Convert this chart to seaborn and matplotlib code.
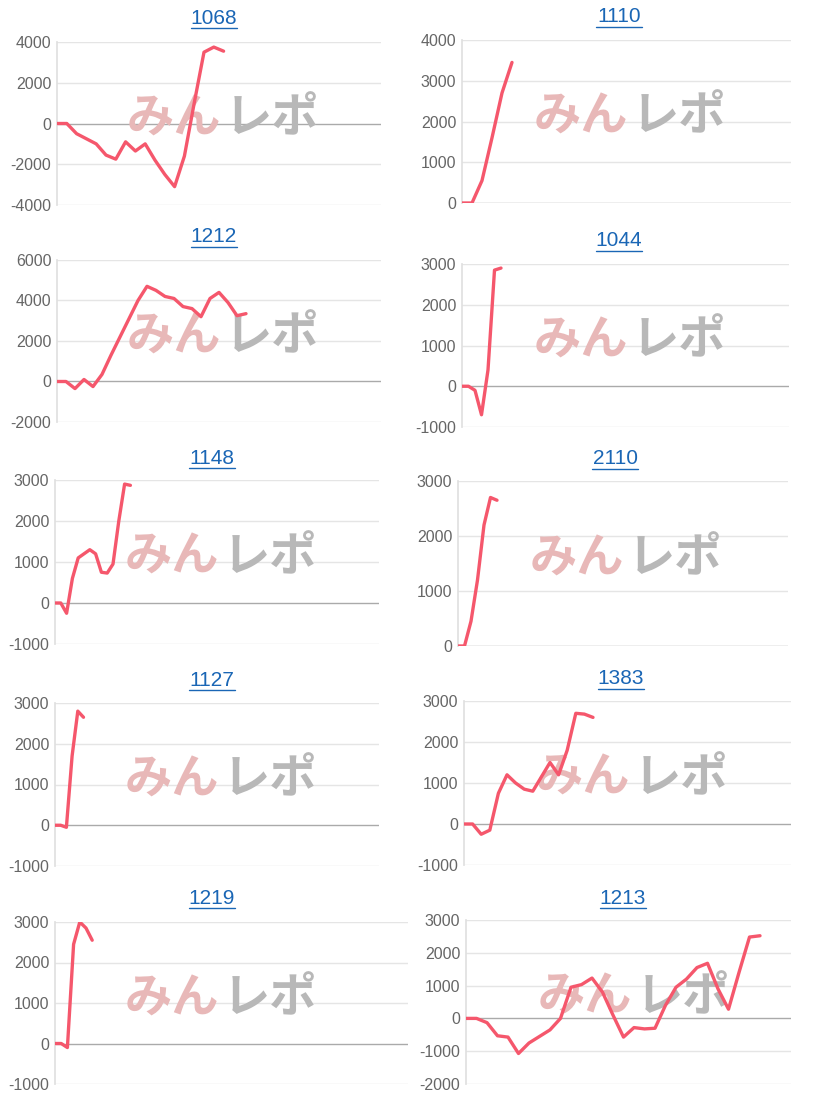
import matplotlib
matplotlib.use("Agg")
import matplotlib.pyplot as plt
import seaborn as sns
import pandas as pd
from matplotlib.ticker import FixedLocator

sns.set_theme(style="white")
plt.rcParams['font.family'] = ['Liberation Sans', 'Noto Sans CJK JP', 'DejaVu Sans']

titles = ["1068", "1110", "1212", "1044", "1148", "2110", "1127", "1383", "1219", "1213"]
v1068 = [0, 0, -500, -750, -1000, -1550, -1750, -900, -1350, -1000, -1800, -2500, -3100, -1600, 1000, 3500, 3750, 3550]
v1110 = [0, 0, 550, 1600, 2700, 3450]
v1212 = [0, 0, -350, 100, -250, 350, 1300, 2200, 3100, 4000, 4700, 4500, 4200, 4100, 3700, 3600, 3200, 4100, 4400, 3900, 3250, 3350]
v1044 = [0, 0, -100, -700, 400, 2850, 2900]
v1148 = [0, 0, -250, 600, 1100, 1200, 1300, 1200, 750, 730, 950, 2000, 2900, 2870]
v2110 = [0, 0, 450, 1200, 2200, 2700, 2650]
v1127 = [0, 0, -50, 1700, 2800, 2650]
v1383 = [0, 0, -250, -150, 750, 1200, 1000, 850, 800, 1150, 1500, 1200, 1800, 2700, 2680, 2600]
v1219 = [0, 0, -100, 2450, 3000, 2850, 2550]
v1213 = [0, 0, -130, -530, -570, -1070, -750, -550, -350, 0, 950, 1030, 1230, 800, 100, -570, -280, -320, -300, 400, 950, 1200, 1550, 1680, 900, 280, 1400, 2480, 2520]
series = [v1068, v1110, v1212, v1044, v1148, v2110, v1127, v1383, v1219, v1213]
yticks = [[-4000, -2000, 0, 2000, 4000], [0, 1000, 2000, 3000, 4000], [-2000, 0, 2000, 4000, 6000],
          [-1000, 0, 1000, 2000, 3000], [-1000, 0, 1000, 2000, 3000], [0, 1000, 2000, 3000],
          [-1000, 0, 1000, 2000, 3000], [-1000, 0, 1000, 2000, 3000], [-1000, 0, 1000, 2000, 3000],
          [-2000, -1000, 0, 1000, 2000, 3000]]
# pixel boxes: x0, x1, ytop, ybottom, title_y, step
boxes = [(57, 381, 42, 205, 18, 9.8), (462, 791, 40, 203, 17, 10), (57, 381, 260, 422, 237, 9),
         (462, 789, 264, 427, 241, 6.5), (55, 379, 480, 644, 458, 5.8), (458, 788, 481, 646, 459, 6.5),
         (55, 379, 703, 866, 680, 5.7), (464, 791, 701, 865, 679, 8.6), (55, 408, 922, 1084, 898, 6.2),
         (466, 791, 920, 1084, 898, 10.5)]

W, H = 818, 1100
fig = plt.figure(figsize=(W / 100, H / 100), dpi=100)
for t, vals, yt, (x0, x1, yt0, yb, ty, step) in zip(titles, series, yticks, boxes):
    ax = fig.add_axes([x0 / W, 1 - yb / H, (x1 - x0) / W, (yb - yt0) / H])
    df = pd.DataFrame({"x": range(len(vals)), "y": vals})
    ax.set_xlim(0, (x1 - x0) / step)
    ax.set_ylim(yt[0], yt[-1])
    ax.yaxis.set_major_locator(FixedLocator(yt))
    ax.set_yticklabels([str(v) for v in yt], color="#666666", fontsize=11.5)
    ax.set_xticks([])
    for v in yt:
        ax.axhline(v, color="#aaaaaa" if v == 0 else "#e5e5e5", lw=1, zorder=0)
    for s in ["top", "right", "bottom"]:
        ax.spines[s].set_visible(False)
    ax.spines["left"].set_color("#e0e0e0")
    ax.tick_params(axis="y", length=0, pad=4)
    jx = (166 + (2 if x0 > 400 else 0)) / (x1 - x0)
    ax.text(jx - 0.005, 0.53, "みん", transform=ax.transAxes, ha="right", va="center",
            fontsize=34, fontweight="bold", color="#e8b8b8", style="italic", zorder=1,
            family=['Noto Sans CJK JP'])
    ax.text(jx + 0.005, 0.53, "レポ", transform=ax.transAxes, ha="left", va="center",
            fontsize=34, fontweight="bold", color="#b8b8b8", style="italic", zorder=1,
            family=['Noto Sans CJK JP'])
    sns.lineplot(data=df, x="x", y="y", ax=ax, color="#f5576c", lw=2.4, zorder=3)
    ax.set_xlabel("")
    ax.set_ylabel("")
    tcx = x0 + 157
    fig.text(tcx / W, 1 - ty / H, t, ha="center", va="center", fontsize=15, color="#1a66b5")
    fig.add_artist(plt.Line2D([(tcx - 23) / W, (tcx + 23) / W],
                              [1 - (ty + 10) / H] * 2, color="#1a66b5", lw=1))

fig.savefig("out.png", dpi=100, facecolor="white")
